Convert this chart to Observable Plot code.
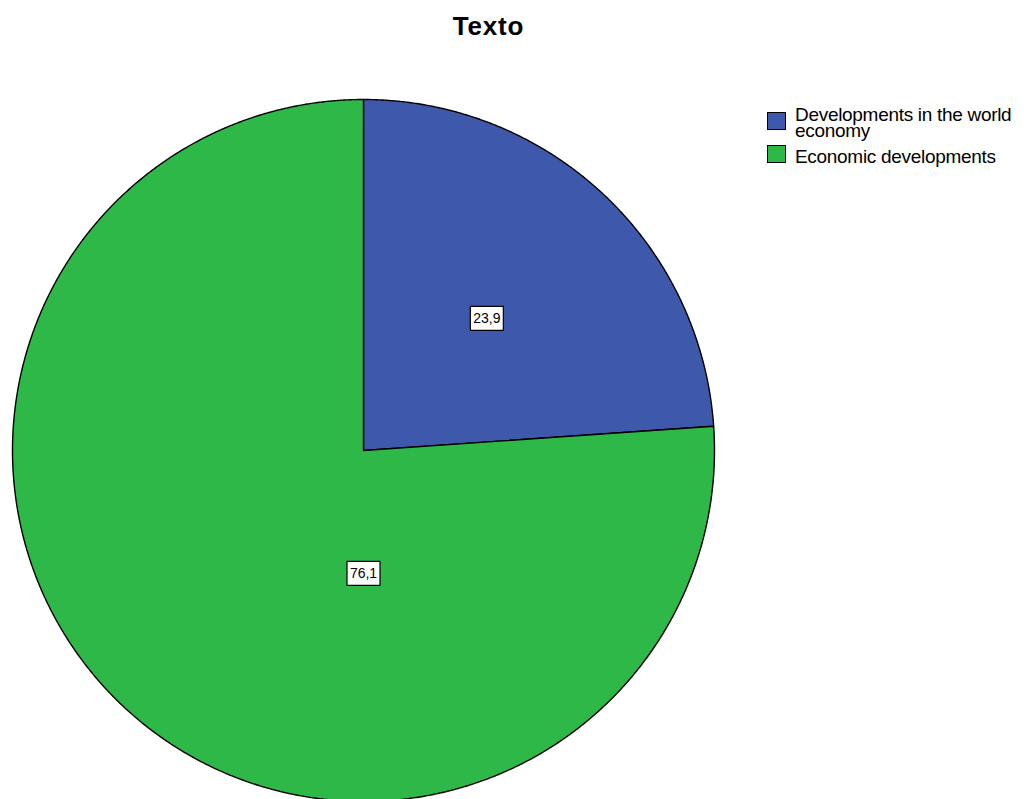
<!DOCTYPE html>
<html>
<head>
<meta charset="utf-8">
<script src="https://cdn.jsdelivr.net/npm/d3@7"></script>
<script src="https://cdn.jsdelivr.net/npm/@observablehq/plot@0.6"></script>
<style>
  html, body { margin: 0; padding: 0; background: #fff; overflow: hidden; }
  #wrap { position: relative; width: 1024px; height: 799px; font-family: "Liberation Sans", Arial, sans-serif; }
  #title { height: 55px; width: 977px; text-align: center; font-weight: bold; font-size: 26px; line-height: 26px; letter-spacing: 0.8px; padding-top: 13px; box-sizing: border-box; color: #000; }
  .sw { position: absolute; left: 767px; width: 17px; height: 16px; border: 1.5px solid #000; }
  .lab { position: absolute; left: 795px; font-size: 19px; line-height: 16px; letter-spacing: -0.3px; color: #000; white-space: nowrap; }
  svg { display: block; }
</style>
</head>
<body>
<div id="wrap">
  <div id="title">Texto</div>
  <div id="chart"></div>
  <div id="legend"></div>
</div>
<script>
const categories = ["Developments in the world economy", "Economic developments"];
const values = [23.9, 76.1];
const colors = ["#3E58AC", "#2EB848"];
const legendLabels = ["Developments in the world\neconomy", "Economic developments"];

const total = d3.sum(values);
let acc = 0;
const slices = categories.map((c, i) => {
  const a0 = acc / total * 2 * Math.PI;
  acc += values[i];
  const a1 = acc / total * 2 * Math.PI;
  return {cat: c, value: values[i], share: values[i] / total, a0, a1, color: colors[i]};
});

function slicePoints(s) {
  const pts = [{x: 0, y: 0}];
  const n = Math.max(2, Math.ceil((s.a1 - s.a0) / (Math.PI / 720)));
  for (let k = 0; k <= n; k++) {
    const a = s.a0 + (s.a1 - s.a0) * k / n;
    pts.push({x: Math.sin(a), y: Math.cos(a)});
  }
  pts.push({x: 0, y: 0});
  return pts;
}

const labels = slices.map(s => {
  const big = s.share > 0.5;
  const a = big ? Math.PI : (s.a0 + s.a1) / 2;
  const r = big ? 0.35 : 0.515;
  return {x: r * Math.sin(a), y: r * Math.cos(a), text: s.value.toFixed(1).replace(".", ",")};
});

const box = {draw(ctx) { ctx.rect(-16.5, -12, 33, 24); }};

const marks = slices.map(s => Plot.line(slicePoints(s), {
  x: "x", y: "y", fill: s.color, stroke: "#000", strokeWidth: 1.4, strokeLinejoin: "round", curve: "linear"
}));
marks.push(Plot.dot(labels, {x: "x", y: "y", symbol: box, r: 1, fill: "#fff", stroke: "#000", strokeWidth: 1.2}));
marks.push(Plot.text(labels, {x: "x", y: "y", text: "text", fontSize: 14, fill: "#000", fontFamily: "Liberation Sans, Arial, sans-serif"}));

const chart = Plot.plot({
  width: 1024,
  height: 744,
  margin: 0,
  x: {domain: [-1, 1], range: [12, 714], axis: null},
  y: {domain: [-1, 1], range: [746, 44], axis: null},
  marks
});
document.getElementById("chart").appendChild(chart);

const leg = document.getElementById("legend");
const swatchTops = [112, 145];
const textTops = [106.5, 148.5];
legendLabels.forEach((l, i) => {
  const sw = document.createElement("div");
  sw.className = "sw";
  sw.style.top = swatchTops[i] + "px";
  sw.style.background = colors[i];
  const lb = document.createElement("div");
  lb.className = "lab";
  lb.style.top = textTops[i] + "px";
  lb.innerHTML = l.replace("\n", "<br>");
  leg.appendChild(sw); leg.appendChild(lb);
});
</script>
</body>
</html>
